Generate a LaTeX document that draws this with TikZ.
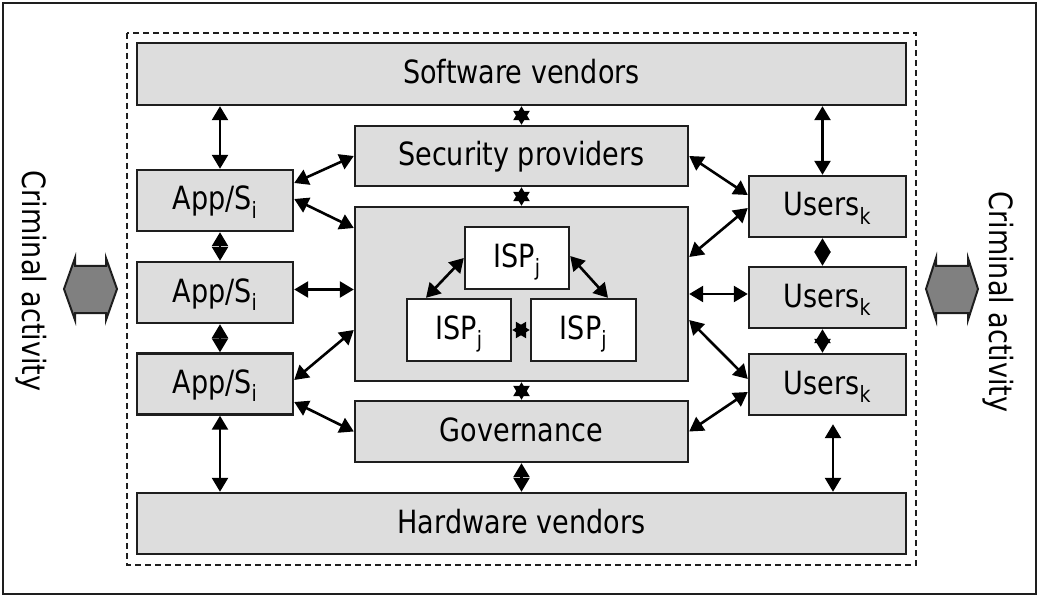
\documentclass[tikz,border=0pt]{standalone}
\usepackage{fontspec}
\setmainfont{DejaVu Sans}[FakeStretch=0.845]
\usetikzlibrary{arrows.meta}
\definecolor{boxfill}{HTML}{DDDDDD}
\definecolor{edgecol}{HTML}{1E1E1E}
\definecolor{hexfill}{HTML}{808080}
\begin{document}
\begin{tikzpicture}[x=1pt,y=-1pt,
  box/.style={draw=edgecol, line width=2.4pt, fill=boxfill, inner sep=0pt,
    text height=24pt, text depth=5pt,
    font=\fontsize{32}{38}\selectfont},
  wbox/.style={box, fill=white},
  conn/.style={line width=2.6pt, draw=black,
    {Triangle[length=14pt,width=16pt]}-{Triangle[length=14pt,width=16pt]}},
  crim/.style={rotate=-90, anchor=base, inner sep=0pt, font=\fontsize{32}{38}\selectfont},
  hexarrow/.style={draw=edgecol, line width=2pt, fill=hexfill, line join=miter}
]
\useasboundingbox (0,0) rectangle (1039,596);
\draw[edgecol, line width=2pt] (3,3) rectangle (1036,594);
\draw[edgecol, line width=2pt, dash pattern=on 6pt off 4pt] (127,33) rectangle (916,565);

% boxes
\node[box, minimum width=769pt, minimum height=62pt] (sw) at (521.5,74) {Software vendors};
\node[box, minimum width=769pt, minimum height=61pt] (hw) at (521.5,523.5) {Hardware vendors};
\node[box, minimum width=333pt, minimum height=60pt] (sec) at (521.5,156) {Security providers};
\node[box, minimum width=333pt, minimum height=174pt] (cen) at (521.5,294) {};
\node[box, minimum width=333pt, minimum height=61pt] (gov) at (521.5,431.5) {Governance};
\node[box, minimum width=156pt, minimum height=61pt] (a1) at (215,200.5) {App/S\textsubscript{i}};
\node[box, minimum width=156pt, minimum height=61pt] (a2) at (215,292.5) {App/S\textsubscript{i}};
\node[box, minimum width=156pt, minimum height=61pt] (a3) at (215,384) {App/S\textsubscript{i}};
\node[box, minimum width=157pt, minimum height=61pt] (u1) at (827.5,206.5) {Users\textsubscript{k}};
\node[box, minimum width=157pt, minimum height=61pt] (u2) at (827.5,297.5) {Users\textsubscript{k}};
\node[box, minimum width=157pt, minimum height=61pt] (u3) at (827.5,384.5) {Users\textsubscript{k}};
\node[wbox, minimum width=104pt, minimum height=62pt] (it) at (517,258) {ISP\textsubscript{j}};
\node[wbox, minimum width=104pt, minimum height=62pt] (il) at (459,330) {ISP\textsubscript{j}};
\node[wbox, minimum width=105pt, minimum height=62pt] (ir) at (583.5,330) {ISP\textsubscript{j}};

% criminal activity
\node[crim] (cl) at (23,281) {Criminal activity};
\node[crim] (cr) at (989,302) {Criminal activity};
\draw[hexarrow] (64,289) -- (75,258) -- (75,266) -- (106,266) -- (106,258) -- (117,289)
  -- (106,320) -- (106,313) -- (75,313) -- (75,320) -- cycle;
\draw[hexarrow] (926,289) -- (936,258) -- (936,266) -- (968,266) -- (968,258) -- (978,289)
  -- (968,320) -- (968,313) -- (936,313) -- (936,320) -- cycle;

% vertical connectors
\draw[conn] ([xshift=5pt]a1.north |- sw.south) -- ([xshift=5pt]a1.north);
\draw[conn] ([xshift=5pt]a1.south) -- ([xshift=5pt]a2.north);
\draw[conn] ([xshift=5pt]a2.south) -- ([xshift=5pt]a3.north);
\draw[conn] ([xshift=5pt]a3.south) -- ([xshift=5pt]a3.south |- hw.north);
\draw[conn] (sec.north |- sw.south) -- (sec.north);
\draw[conn] (sec.south) -- (cen.north);
\draw[conn] (cen.south) -- (gov.north);
\draw[conn] (gov.south) -- (gov.south |- hw.north);
\draw[conn] ([xshift=-5pt]u1.north |- sw.south) -- ([xshift=-5pt]u1.north);
\draw[conn] ([xshift=-5pt]u1.south) -- ([xshift=-5pt]u2.north);
\draw[conn] ([xshift=-5pt]u2.south) -- ([xshift=-5pt]u3.north);
\draw[conn] ([xshift=5.5pt,yshift=-8pt]u3.south) -- ([xshift=5.5pt]u3.south |- hw.north);

% left diagonals
\draw[conn] ([yshift=17.5pt]a1.east) -- (sec.west);
\draw[conn] ([yshift=1.5pt]a1.east) -- ([yshift=66pt]cen.west);
\draw[conn] ([yshift=3pt]a2.east) -- ([yshift=3pt]a2.east -| cen.west);
\draw[conn] ([yshift=4pt]a3.east) -- ([yshift=-36pt]cen.west);
\draw[conn] ([yshift=-18pt]a3.east) -- (gov.west);

% right diagonals
\draw[conn] (sec.east) -- ([yshift=11.5pt]u1.west);
\draw[conn] ([yshift=37pt]cen.east) -- ([yshift=-1.5pt]u1.west);
\draw[conn] (cen.east) -- (cen.east -| u2.west);
\draw[conn] ([yshift=-26pt]cen.east) -- ([yshift=5.5pt]u3.west);
\draw[conn] (gov.east) -- ([yshift=-7.5pt]u3.west);

% ISP connectors
\draw[conn] (it.west) -- ([xshift=-33pt]il.north);
\draw[conn] ([yshift=2pt]it.east) -- ([xshift=24.5pt]ir.north);
\draw[conn] (il.east) -- (ir.west);
\end{tikzpicture}
\end{document}
